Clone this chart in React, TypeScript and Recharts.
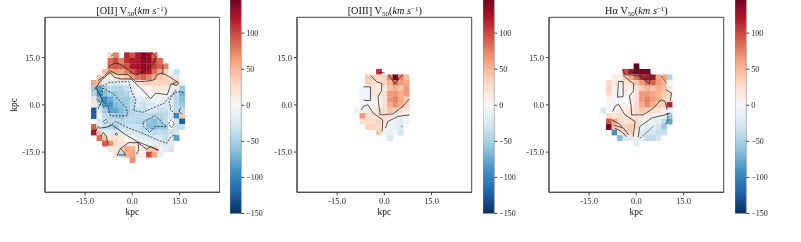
import React from "react";
import {
  ScatterChart, Scatter, XAxis, YAxis, ReferenceArea, ComposedChart, Label,
} from "recharts";

const _ = null;
const FONT = "'Liberation Serif', serif";
const DOMAIN: [number, number] = [-27.75, 27.75];
const TICKS = [-15, 0, 15];
const BAR_TICKS = [-150, -100, -50, 0, 50, 100];
const CELL_KPC = 1.75;
const PLOT_W = 174.7;
const PLOT_H = 175;
const RDBU = ["#053061", "#2166ac", "#4393c3", "#92c5de", "#d1e5f0", "#f7f7f7", "#fddbc7", "#f4a582", "#d6604d", "#b2182b", "#67001f"];

type Grid = (number | null)[][];
type Path = { dash?: boolean; pts: number[][] };

// [OII]: columns k=-7..9, rows k=9..-10 (k × 1.75 kpc)
const oiiCells: Grid = [
  [_, _, _, 35, 75, _, 115, 95, 120, 140, 130, 85, _, _, _, _, _],
  [_, _, _, 85, 100, 75, 110, 120, 120, 135, 130, 105, 85, _, _, _, _],
  [_, _, _, 90, 95, 90, 95, 120, 125, 135, 125, 105, 90, 75, _, _, _],
  [_, _, 45, 60, 65, 60, 75, 95, 115, 125, 120, 85, 60, 35, -5, -35, _],
  [_, 40, 20, 8, 20, 35, 45, 65, 80, 90, 75, 55, 40, 35, 20, -20, _],
  [60, 45, -15, -20, -20, -20, -15, 5, 20, 35, 40, 35, 35, 35, 35, 40, -5],
  [-55, -85, -55, -40, -45, -45, -35, -20, 0, 5, 5, 20, 20, 20, -5, -15, -55],
  [-45, -90, -65, -50, -55, -50, -45, -25, -5, -5, -5, 5, 5, 0, -15, -40, -70],
  [20, -65, -95, -75, -60, -55, -55, -40, -20, -20, -15, -10, -10, -15, -20, -45, -65],
  [20, -40, -90, -90, -65, -60, -55, -40, -25, -35, -25, -20, -20, -20, -25, -45, -55],
  [-125, -20, -55, -80, -80, -65, -55, -45, -35, -35, -25, -25, -35, -35, -25, -40, -40],
  [-125, 0, -40, -45, -55, -60, -45, -40, -40, -40, -40, -45, -45, -40, -25, -100, 40],
  [_, -25, -35, -40, -40, -45, -40, -40, -45, -45, -60, -65, -55, -40, -5, -25, -125],
  [90, -15, -35, -40, -55, -35, -35, -35, -35, -40, -65, -65, -60, -55, 5, -35, -35],
  [120, 40, -20, -20, -20, -25, -25, -25, -25, -35, -35, -40, -35, -40, -35, -25, _],
  [_, 85, 45, 20, 25, 15, 0, -5, -20, -20, -25, -25, -25, -35, -25, -80, _],
  [_, _, 90, 70, 20, 20, 20, 20, 15, 5, -5, -15, -20, -25, -20, _, _],
  [_, _, _, 15, 15, 20, 60, 55, 8, 20, 35, 40, 8, -20, -25, _, _],
  [_, _, _, _, 25, -40, 55, 60, 15, 8, 100, 60, -15, _, _, _, _],
  [_, _, _, _, _, _, _, 70, _, _, _, _, _, _, _, _, _],
];

const oiiLines: Path[] = [
  { pts: [[-7.4, 12], [-5.8, 13.2], [-4.2, 13], [-2.1, 11.7], [1.1, 9.3], [4.2, 10.9], [6.7, 13], [7.5, 15.1], [6.1, 16.6]] },
  { pts: [[-6.8, 15.4], [-6.1, 15.9]] },
  { pts: [[-10.9, 7.7], [-9, 9], [-7.2, 10.9], [-6.1, 10.3], [-4.8, 9.6], [-1.4, 9.6], [1.1, 7.4], [3.9, 7.4], [6.9, 7.9], [7.8, 9.5], [9.5, 10.1], [11.6, 9], [14.8, 6.9], [14.1, 6.1], [12.7, 6.6]] },
  { pts: [[-12, 4.8], [-10.3, 7.4], [-8.7, 8.8], [-7.1, 10.3], [-5.8, 8.8], [-3.7, 8.2], [-0.5, 8.2], [2.1, 5.8], [4.2, 3.7], [5.8, 1.9], [7.4, 3.7], [11.1, 3.2], [12.2, 6.4], [14.1, 7.2]] },
  { dash: true, pts: [[-9.5, 6], [-7.4, 7.1], [-1.1, 7.4], [-0.3, 4.2], [1.1, 1.6], [0.5, -1.8], [3.2, -2.4], [6.4, -1.1], [10.1, 0.5], [11.9, 2.6], [14.3, 4.2], [16.6, 3.9]] },
  { dash: true, pts: [[-9.5, 5.3], [-6.3, 3.7], [-1.8, -1.1], [-1.6, -3.5], [-6.9, -3.5], [-7.7, -0.5], [-9.7, 1.6], [-9.5, 5.3]] },
  { pts: [[-11.6, 5.5], [-10.5, 3.5], [-9.6, 1.5], [-10.5, -0.5]] },
  { dash: true, pts: [[-11.2, 1.8], [-10, 0.5], [-10.8, -1.3]] },
  { dash: true, pts: [[-9.2, -5.3], [-8.5, -4.5], [-7.8, -5.3], [-8.5, -6.1], [-9.2, -5.3]] },
  { dash: true, pts: [[-7.4, -6.7], [-5.3, -5.3], [-1.1, -7.4], [3.2, -9], [7.9, -11.1], [10.9, -12.2], [12.2, -10.1], [13.8, -9.5]] },
  { pts: [[-10.6, -7.4], [-8, -7.1], [-6.4, -6.4], [-2.1, -9.5], [1.6, -11.7], [8.5, -14.4]] },
  { dash: true, pts: [[3.4, -5.5], [7.2, -3.4], [10.8, -6.9], [7.1, -6.9], [5.5, -8.8], [3.5, -6.9], [3.4, -5.5]] },
  { pts: [[-10.1, -9.9], [-9.2, -8.8], [-8.2, -10.1], [-7.7, -12.8]] },
  { pts: [[-11.9, -8.5], [-10.6, -6.7]] },
  { pts: [[-3.7, -13.8], [-1.1, -12], [1.8, -12], [2.1, -14.3], [1.3, -15.6]] },
  { pts: [[1.8, -12], [4.6, -14.1], [5.8, -13.2], [8.2, -14.5]] },
  { pts: [[-3.7, -13.8], [-4.8, -15.9], [-2.1, -15.9], [-3.7, -13.8]] },
  { pts: [[-5.5, -9.3], [-5.1, -8.9], [-4.7, -9.3], [-5.1, -9.7], [-5.5, -9.3]] },
  { dash: true, pts: [[11.5, -6], [12.4, -4.7], [13.3, -6], [12.4, -7.3], [11.5, -6]] },
  { dash: true, pts: [[13.8, 4.8], [11.7, 1.1], [12.2, -1.6], [13.8, -3.2]] },
  { pts: [[15.3, -1], [14.8, -2], [15.7, -3]] },
  { pts: [[9.7, 12.7], [9.7, 9.5]] },
];

// [OIII]: columns k=-5..4, rows k=6..-6
const oiiiCells: Grid = [
  [_, _, _, _, 110, _, _, _, _, _],
  [_, _, 40, 35, 28, 35, 75, 145, 75, 45],
  [_, _, 35, 28, 20, 35, 55, 85, 65, 60],
  [_, -5, -5, 20, 14, 20, 45, 55, 45, 65],
  [_, -5, -5, 20, 20, 28, 65, 65, 55, 65],
  [_, -5, -5, 7, 7, 20, 65, 75, 60, 40],
  [_, -5, -5, 7, 7, 20, 55, 70, 55, 35],
  [-5, 7, 14, 14, 20, 28, 45, 35, 28, 14],
  [_, 65, 28, 20, 20, 28, 20, 14, 7, 7],
  [_, 28, 28, 28, 35, 20, -4, -14, -14, -7],
  [_, _, 35, 35, 28, 14, -7, -14, -20, _],
  [_, _, _, _, 35, -4, -14, -7, -28, _],
  [_, _, _, _, _, _, -22, _, _, _],
];

const oiiiLines: Path[] = [
  { pts: [[-1.7, 10.3], [0.1, 10.1]] },
  { pts: [[1.4, 9.5], [3.3, 6.7], [4.6, 8.2], [5.9, 9.7]] },
  { pts: [[-4.2, 9.2], [-2.6, 7.4], [-0.7, 6.7], [-1, 4.2], [-2, 2.6], [-1.7, -0.5], [-1.3, -3.2], [2.7, -2.9], [5.9, -0.5], [7.8, 1.8]] },
  { pts: [[-7.4, -1.6], [-6.6, -0.5], [-5.2, 0], [-3.6, -2.6], [-0.5, -4.8], [-0.7, -8.5]] },
  { pts: [[0.4, -7.4], [1.1, -5.3], [4.3, -3.7], [8, -3.2]] },
  { pts: [[-6.6, 5.7], [-4.4, 5.7], [-4.4, 1.4], [-6.6, 1.4]] },
  { dash: true, pts: [[-2.3, -9], [-2, -8.8]] },
  { dash: true, pts: [[5.3, -7], [5.6, -6.8]] },
];

// Hα: columns k=-6..6, rows k=7..-7
const haCells: Grid = [
  [_, _, _, _, _, _, 150, _, _, _, _, _, _],
  [_, _, _, _, 100, 125, 145, 145, 145, _, _, _, _],
  [_, _, 7, 14, 40, 60, 85, 110, 120, 130, 60, 60, -45],
  [_, 28, 14, 14, 20, 28, 40, 65, 85, 90, 65, 55, -7],
  [_, 35, 7, -5, 14, 7, 20, 40, 55, 45, 55, 45, 20],
  [_, 28, 7, -5, 7, 0, 20, 65, 65, 60, 55, 40, 28],
  [_, 4, -3, 0, 0, 7, 20, 65, 75, 65, 55, 35, 20],
  [_, 0, -5, 0, 7, 7, 28, 55, 70, 55, 40, 35, 115],
  [-28, 0, 7, 14, 14, 20, 28, 45, 35, 28, 20, 14, -7],
  [_, 28, 20, 28, 20, 20, 20, 20, 14, 7, 7, -7, -55],
  [_, 95, 60, 28, 20, 28, 28, 7, -7, -7, -14, -40, -80],
  [_, 145, 40, 35, 35, 40, 28, -7, -20, -20, -28, -55, _],
  [_, _, -90, 14, 35, 35, 14, -20, -28, -28, -35, -35, _],
  [_, _, _, -65, -28, -20, 14, -14, -40, -40, -28, _, _],
  [_, _, _, _, _, _, -20, _, _, _, _, _, _],
];

const haLines: Path[] = [
  { pts: [[-4.4, 11.3], [-3.6, 9.5], [-1.5, 9.5], [1.1, 9], [4.1, 6.7], [4.6, 10.1]] },
  { pts: [[-2.3, 10.6], [0.6, 9.9], [3.3, 7.9], [4.3, 7.9]] },
  { pts: [[-4.2, 9.5], [-2.6, 7.9], [-0.8, 6.7], [-1, 4.2], [-2.2, 2.9], [-1.7, 0], [-1.5, -3.2], [2.2, -3.2], [5.4, -1.1], [7.8, 1.6], [9.1, 1.1], [9.8, -1.6]] },
  { pts: [[-7.5, -2.1], [-6.8, -0.5], [-5.7, 0.2], [-3.6, -3.2], [-0.4, -5.3], [-1, -10.1]] },
  { pts: [[0.6, -10.3], [1.1, -6.9], [4.9, -4.2], [9.1, -3.2], [10.7, -2.6]] },
  { pts: [[-5.7, 7.4], [-4.2, 7.4], [-4.2, 2.6], [-6, 2.4], [-5.7, 7.4]] },
  { pts: [[-7.3, -6.4], [-4.1, -7.4], [-2.5, -9.5]] },
  { pts: [[-6.8, -7.4], [-4.7, -8.5], [-3.1, -10.1]] },
  { pts: [[-7.8, -4.8], [-5.5, -6], [-4.5, -7]] },
  { dash: true, pts: [[8, 9], [9.6, 6.9]] },
  { pts: [[9.4, 4.8], [11.2, 3.7], [10.7, 1.1]] },
  { dash: true, pts: [[9.8, -2.6], [10.1, -4.8], [9.1, -6.4]] },
  { dash: true, pts: [[1.1, -10.6], [5.4, -6.9]] },
];

function colour(v: number): string {
  const t = Math.max(0, Math.min(0.9999, (v + 150) / 300)) * 10;
  const i = Math.floor(t);
  const f = t - i;
  const hex = (s: string, o: number) => parseInt(s.slice(o, o + 2), 16);
  const mix = (o: number) => Math.round(hex(RDBU[i], o) + (hex(RDBU[i + 1], o) - hex(RDBU[i], o)) * f);
  return `rgb(${mix(1)},${mix(3)},${mix(5)})`;
}

function gridPoints(grid: Grid, firstCol: number, firstRow: number) {
  const out: { x: number; y: number; v: number }[] = [];
  grid.forEach((row, r) =>
    row.forEach((v, c) => {
      if (v !== null) out.push({ x: (firstCol + c) * CELL_KPC, y: (firstRow - r) * CELL_KPC, v });
    })
  );
  return out;
}

const cellW = (PLOT_W / (DOMAIN[1] - DOMAIN[0])) * CELL_KPC;
const cellH = (PLOT_H / (DOMAIN[1] - DOMAIN[0])) * CELL_KPC;
const CellShape = (p: any) => (
  <rect x={p.cx - cellW / 2} y={p.cy - cellH / 2} width={cellW + 0.3} height={cellH + 0.3} fill={colour(p.payload.v)} />
);
const NoDot = () => null;

const tickStyle = { fontFamily: FONT, fontSize: 8.5, fill: "#222" };
const labelStyle = { fontFamily: FONT, fontSize: 9.5, fill: "#111" };

function Panel({ left, grid, firstCol, firstRow, lines, yLabel }: {
  left: number; grid: Grid; firstCol: number; firstRow: number; lines: Path[]; yLabel?: boolean;
}) {
  const cells = gridPoints(grid, firstCol, firstRow);
  return (
    <div style={{ position: "absolute", left: left - 40, top: 0 }}>
      <ScatterChart width={PLOT_W + 41} height={242} margin={{ top: 17.3, right: 1, bottom: 19.7, left: 0 }}>
        <XAxis type="number" dataKey="x" domain={DOMAIN} ticks={TICKS} allowDataOverflow height={30}
          tickFormatter={(v: number) => v.toFixed(1)} tick={tickStyle} tickSize={3} tickMargin={3}
          stroke="#444" interval={0}>
          <Label value="kpc" position="insideBottom" offset={7} style={labelStyle} />
        </XAxis>
        <YAxis type="number" dataKey="y" domain={DOMAIN} ticks={TICKS} allowDataOverflow width={40}
          tickFormatter={(v: number) => v.toFixed(1)} tick={tickStyle} tickSize={3} tickMargin={2}
          stroke="#444" interval={0}>
          {yLabel ? <Label value="kpc" angle={-90} position="insideLeft" offset={8.5} style={{ ...labelStyle, textAnchor: "middle" }} /> : null}
        </YAxis>
        <Scatter data={cells} shape={CellShape} isAnimationActive={false} />
        {lines.map((l, i) => (
          <Scatter key={i} data={l.pts.map(([x, y]) => ({ x, y }))} shape={NoDot} isAnimationActive={false}
            line={{ stroke: "#2a2a2a", strokeWidth: 0.8, strokeDasharray: l.dash ? "2 1.3" : undefined, fill: "none" }}
            lineType="joint" />
        ))}
        <ReferenceArea x1={DOMAIN[0]} x2={DOMAIN[1]} y1={DOMAIN[0]} y2={DOMAIN[1]} fill="none" fillOpacity={0} stroke="#444" strokeWidth={1} ifOverflow="visible" />
      </ScatterChart>
    </div>
  );
}

const barX = [0, 1];
function ColourBar({ left, id }: { left: number; id: string }) {
  return (
    <div style={{ position: "absolute", left, top: -3 }}>
      <ComposedChart width={50} height={240} margin={{ top: 0, right: 11.7, bottom: 23.5, left: 0 }} data={[{ x: 0 }, { x: 1 }]}>
        <defs>
          <linearGradient id={id} x1="0" y1="1" x2="0" y2="0">
            {RDBU.map((c, i) => <stop key={c} offset={i / 10} stopColor={c} />)}
          </linearGradient>
        </defs>
        <XAxis type="number" dataKey="x" domain={barX} hide />
        <YAxis type="number" orientation="right" domain={[-150, 150]} ticks={BAR_TICKS} width={27} allowDataOverflow
          interval={0} axisLine={false} tickSize={3} tickMargin={2} stroke="#444"
          tick={{ fontFamily: FONT, fontSize: 8, fill: "#222" }}
          tickFormatter={(v: number) => (v < 0 ? `\u2212${-v}` : `${v}`)} />
        <ReferenceArea x1={0} x2={1} y1={-150} y2={150} fill={`url(#${id})`} fillOpacity={1} stroke="#888" strokeWidth={0.6} ifOverflow="visible" />
      </ComposedChart>
    </div>
  );
}

function Title({ centre, line }: { centre: number; line: string }) {
  return (
    <div style={{ position: "absolute", left: centre - 80, width: 160, top: 4.5, textAlign: "center", fontFamily: FONT, fontSize: 10.3, lineHeight: "12px", color: "#111", whiteSpace: "nowrap" }}>
      {line} V<sub style={{ fontSize: 7, lineHeight: 0, verticalAlign: "-2px" }}>50</sub>(<i>km s</i><sup style={{ fontSize: 7, lineHeight: 0, verticalAlign: "3.5px" }}>{"\u22121"}</sup>)
    </div>
  );
}

export default function App() {
  return (
    <div style={{ position: "absolute", left: 0, top: 0, width: 801, height: 242, overflow: "hidden", background: "#fff", filter: "blur(0.35px)" }}>
      <Panel left={44.7} grid={oiiCells} firstCol={-7} firstRow={9} lines={oiiLines} yLabel />
      <ColourBar left={230} id="cb1" />
      <Title centre={131.7} line="[OII]" />
      <Panel left={297.4} grid={oiiiCells} firstCol={-5} firstRow={6} lines={oiiiLines} />
      <ColourBar left={482.7} id="cb2" />
      <Title centre={384.8} line="[OIII]" />
      <Panel left={549} grid={haCells} firstCol={-6} firstRow={7} lines={haLines} />
      <ColourBar left={734.7} id="cb3" />
      <Title centre={636.4} line={"H\u03B1"} />
    </div>
  );
}
